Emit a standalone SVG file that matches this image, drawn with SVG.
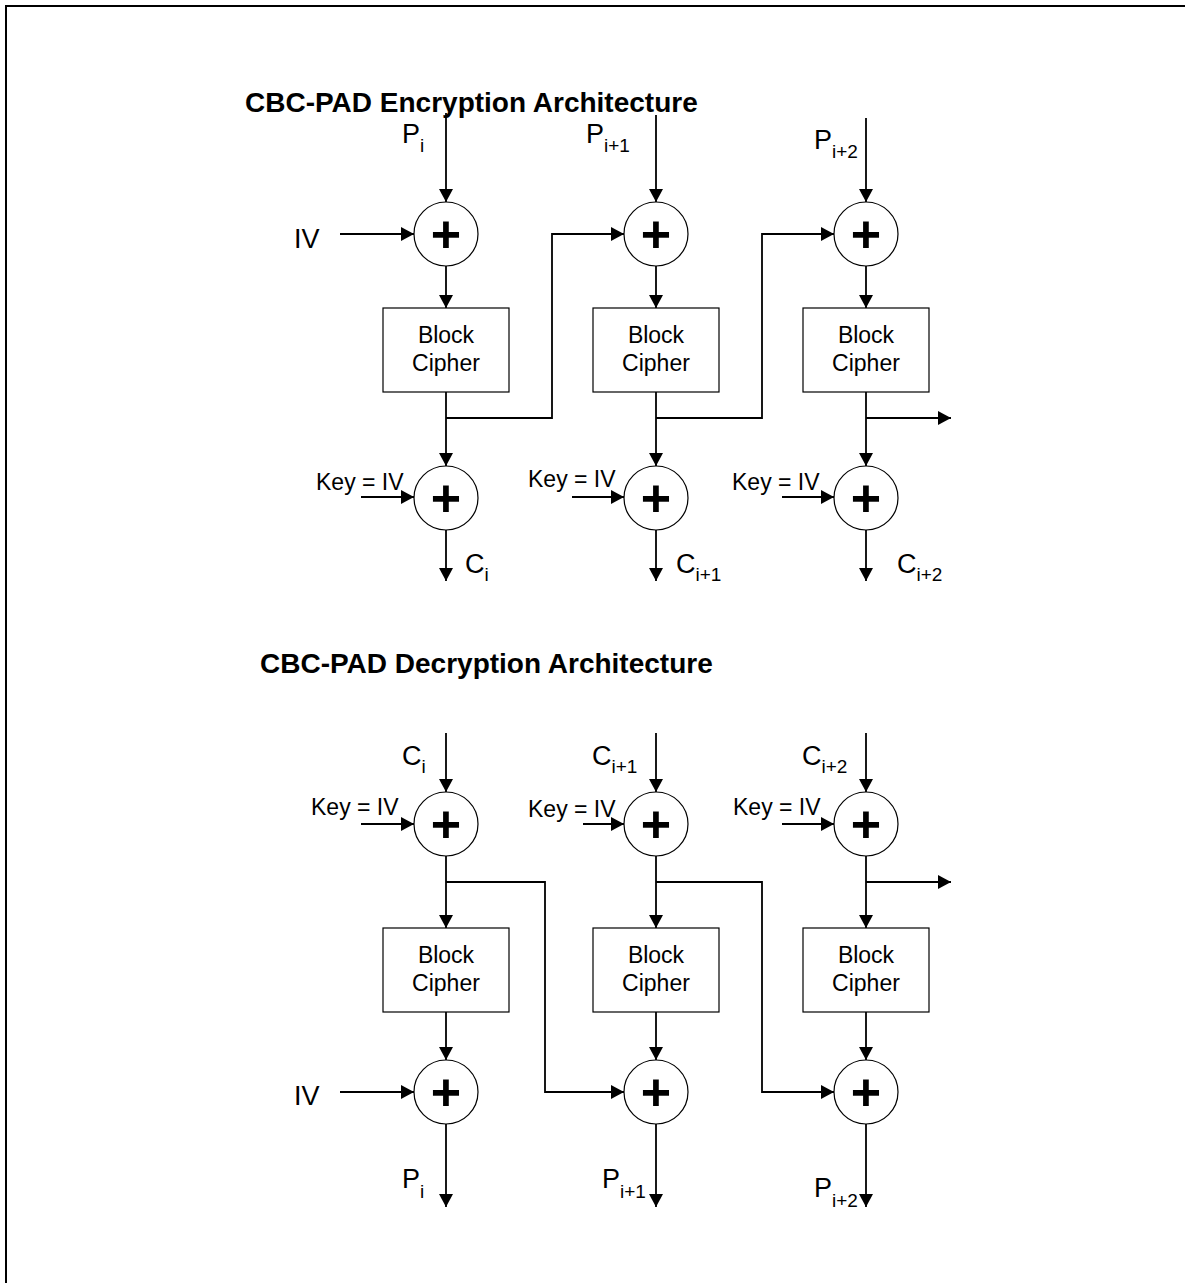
<svg xmlns="http://www.w3.org/2000/svg" width="1185" height="1283" viewBox="0 0 1185 1283">
<defs>
<marker id="ah" markerUnits="userSpaceOnUse" markerWidth="14" markerHeight="14" refX="13" refY="7" orient="auto">
<path d="M0,0 L13,7 L0,14 z" fill="#000"/>
</marker>
<style>
.t{font-family:"Liberation Sans",Arial,sans-serif;fill:#000}
.title{font-size:28px;font-weight:bold}
.lbl{font-size:27px}
.sub{font-size:19px}
.key{font-size:23px}
.bc{font-size:23px;text-anchor:middle}
.plus{font-size:52px;font-weight:bold;text-anchor:middle}
.box{fill:#fff;stroke:#000;stroke-width:1.2}
.xor{fill:#fff;stroke:#000;stroke-width:1.2}
.c{fill:none;stroke:#000;stroke-width:1.8;marker-end:url(#ah)}
.l{fill:none;stroke:#000;stroke-width:1.8}
</style>
</defs>
<rect width="1185" height="1283" fill="#fff"/>
<path d="M6,1290 V6 H1186" fill="none" stroke="#000" stroke-width="2"/>

<g id="connectors">
<!-- encryption -->
<path class="c" d="M446,113 V202"/>
<path class="c" d="M656,115 V202"/>
<path class="c" d="M866,118 V202"/>
<path class="c" d="M340,234 H414"/>
<path class="c" d="M446,266 V308"/>
<path class="c" d="M656,266 V308"/>
<path class="c" d="M866,266 V308"/>
<path class="c" d="M446,392 V466"/>
<path class="c" d="M656,392 V466"/>
<path class="c" d="M866,392 V466"/>
<path class="c" d="M446,418 H552 V234 H624"/>
<path class="c" d="M656,418 H762 V234 H834"/>
<path class="c" d="M866,418 H951"/>
<path class="c" d="M361,497 H414"/>
<path class="c" d="M572,497 H624"/>
<path class="c" d="M782,497 H834"/>
<path class="c" d="M446,530 V581"/>
<path class="c" d="M656,530 V581"/>
<path class="c" d="M866,530 V581"/>
<!-- decryption -->
<path class="c" d="M446,733 V792"/>
<path class="c" d="M656,733 V792"/>
<path class="c" d="M866,733 V792"/>
<path class="c" d="M361,824 H414"/>
<path class="c" d="M583,824 H624"/>
<path class="c" d="M782,824 H834"/>
<path class="c" d="M446,856 V928"/>
<path class="c" d="M656,856 V928"/>
<path class="c" d="M866,856 V928"/>
<path class="c" d="M446,882 H545 V1092 H624"/>
<path class="c" d="M656,882 H762 V1092 H834"/>
<path class="c" d="M866,882 H951"/>
<path class="c" d="M446,1012 V1060"/>
<path class="c" d="M656,1012 V1060"/>
<path class="c" d="M866,1012 V1060"/>
<path class="c" d="M340,1092 H414"/>
<path class="c" d="M446,1124 V1207"/>
<path class="c" d="M656,1124 V1207"/>
<path class="c" d="M866,1124 V1207"/>
</g>

<g id="titles">
<text class="t title" x="245" y="112">CBC-PAD Encryption Architecture</text>
<text class="t title" x="260" y="673">CBC-PAD Decryption Architecture</text>
</g>

<!-- encryption nodes -->
<g id="enc-xor1-1"><circle class="xor" cx="446" cy="234" r="32"/><text class="t plus" x="446" y="252">+</text></g>
<g id="enc-xor1-2"><circle class="xor" cx="656" cy="234" r="32"/><text class="t plus" x="656" y="252">+</text></g>
<g id="enc-xor1-3"><circle class="xor" cx="866" cy="234" r="32"/><text class="t plus" x="866" y="252">+</text></g>
<g id="enc-bc1"><rect class="box" x="383" y="308" width="126" height="84"/><text class="t bc" x="446" y="343">Block</text><text class="t bc" x="446" y="371">Cipher</text></g>
<g id="enc-bc2"><rect class="box" x="593" y="308" width="126" height="84"/><text class="t bc" x="656" y="343">Block</text><text class="t bc" x="656" y="371">Cipher</text></g>
<g id="enc-bc3"><rect class="box" x="803" y="308" width="126" height="84"/><text class="t bc" x="866" y="343">Block</text><text class="t bc" x="866" y="371">Cipher</text></g>
<g id="enc-xor2-1"><circle class="xor" cx="446" cy="498" r="32"/><text class="t plus" x="446" y="516">+</text></g>
<g id="enc-xor2-2"><circle class="xor" cx="656" cy="498" r="32"/><text class="t plus" x="656" y="516">+</text></g>
<g id="enc-xor2-3"><circle class="xor" cx="866" cy="498" r="32"/><text class="t plus" x="866" y="516">+</text></g>
<g id="enc-labels">
<text class="t lbl" x="402" y="143">P<tspan class="sub" dy="9">i</tspan></text>
<text class="t lbl" x="586" y="143">P<tspan class="sub" dy="9">i+1</tspan></text>
<text class="t lbl" x="814" y="149">P<tspan class="sub" dy="9">i+2</tspan></text>
<text class="t lbl" x="294" y="248">IV</text>
<text class="t key" x="316" y="490">Key = IV</text>
<text class="t key" x="528" y="487">Key = IV</text>
<text class="t key" x="732" y="490">Key = IV</text>
<text class="t lbl" x="465" y="573">C<tspan class="sub" dy="8">i</tspan></text>
<text class="t lbl" x="676" y="573">C<tspan class="sub" dy="8">i+1</tspan></text>
<text class="t lbl" x="897" y="573">C<tspan class="sub" dy="8">i+2</tspan></text>
</g>

<!-- decryption nodes -->
<g id="dec-xor1-1"><circle class="xor" cx="446" cy="824" r="32"/><text class="t plus" x="446" y="842">+</text></g>
<g id="dec-xor1-2"><circle class="xor" cx="656" cy="824" r="32"/><text class="t plus" x="656" y="842">+</text></g>
<g id="dec-xor1-3"><circle class="xor" cx="866" cy="824" r="32"/><text class="t plus" x="866" y="842">+</text></g>
<g id="dec-bc1"><rect class="box" x="383" y="928" width="126" height="84"/><text class="t bc" x="446" y="963">Block</text><text class="t bc" x="446" y="991">Cipher</text></g>
<g id="dec-bc2"><rect class="box" x="593" y="928" width="126" height="84"/><text class="t bc" x="656" y="963">Block</text><text class="t bc" x="656" y="991">Cipher</text></g>
<g id="dec-bc3"><rect class="box" x="803" y="928" width="126" height="84"/><text class="t bc" x="866" y="963">Block</text><text class="t bc" x="866" y="991">Cipher</text></g>
<g id="dec-xor2-1"><circle class="xor" cx="446" cy="1092" r="32"/><text class="t plus" x="446" y="1110">+</text></g>
<g id="dec-xor2-2"><circle class="xor" cx="656" cy="1092" r="32"/><text class="t plus" x="656" y="1110">+</text></g>
<g id="dec-xor2-3"><circle class="xor" cx="866" cy="1092" r="32"/><text class="t plus" x="866" y="1110">+</text></g>
<g id="dec-labels">
<text class="t lbl" x="402" y="765">C<tspan class="sub" dy="8">i</tspan></text>
<text class="t lbl" x="592" y="765">C<tspan class="sub" dy="8">i+1</tspan></text>
<text class="t lbl" x="802" y="765">C<tspan class="sub" dy="8">i+2</tspan></text>
<text class="t key" x="311" y="815">Key = IV</text>
<text class="t key" x="528" y="817">Key = IV</text>
<text class="t key" x="733" y="815">Key = IV</text>
<text class="t lbl" x="294" y="1105">IV</text>
<text class="t lbl" x="402" y="1188">P<tspan class="sub" dy="10">i</tspan></text>
<text class="t lbl" x="602" y="1188">P<tspan class="sub" dy="10">i+1</tspan></text>
<text class="t lbl" x="814" y="1197">P<tspan class="sub" dy="10">i+2</tspan></text>
</g>
</svg>
